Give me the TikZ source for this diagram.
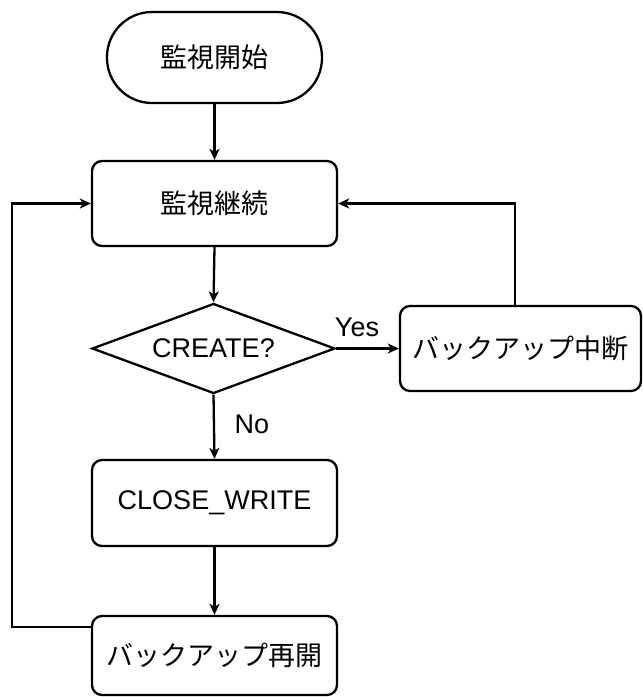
\documentclass[tikz,border=0pt]{standalone}
\usepackage{fontspec}
\setmainfont{Liberation Sans}
\newfontfamily\cjk{Noto Sans CJK JP}
\usetikzlibrary{shapes.geometric,arrows.meta}
\begin{document}
\begin{tikzpicture}[x=1pt,y=-1pt,
  every node/.style={font=\fontsize{27}{31}\selectfont},
  boxnode/.style={draw,line width=2.3pt,rounded corners=10pt,minimum width=245pt,minimum height=85pt,inner sep=0pt},
  startnode/.style={draw,line width=2.3pt,rounded corners=45pt,minimum width=215pt,minimum height=91pt,inner sep=0pt},
  decnode/.style={draw,line width=2.3pt,diamond,aspect=2.7,minimum width=243pt,minimum height=90pt,inner sep=0pt},
  conn/.style={line width=2.3pt,-{Stealth[length=11pt,width=10pt,inset=3pt]}},
  lbl/.style={inner sep=0pt}]
\useasboundingbox (0,0) rectangle (643,697);
\node[startnode] (start) at (214.5,57.5) {\cjk 監視開始};
\node[boxnode] (cont) at (214.5,203.5) {\cjk 監視継続};
\node[decnode] (dec) at (213.5,348.5) {CREATE?};
\node[boxnode,minimum width=241pt] (intr) at (520.5,348.5) {\cjk バックアップ中断};
\node[boxnode,minimum height=86pt] (cw) at (214.5,503) {CLOSE\_WRITE};
\node[boxnode,minimum height=79pt] (res) at (214.5,655.5) {\cjk バックアップ再開};
\coordinate (lb) at (12,627);
\coordinate (rt) at (515,203.5);
\draw[conn] (start.south) -- (cont.north);
\draw[conn] (cont.south) -- (dec.north);
\draw[conn] (dec.east) -- (intr.west);
\draw[conn] (dec.south) -- (cw.north);
\draw[conn] (cw.south) -- (res.north);
\draw[conn] (res.west |- lb) -- (lb) |- (cont.west);
\draw[conn] (rt |- intr.north) -- (rt) -- (cont.east);
\node[lbl] (yes) at (357,327) {Yes};
\node[lbl] (no) at (252,424) {No};
\end{tikzpicture}
\end{document}
